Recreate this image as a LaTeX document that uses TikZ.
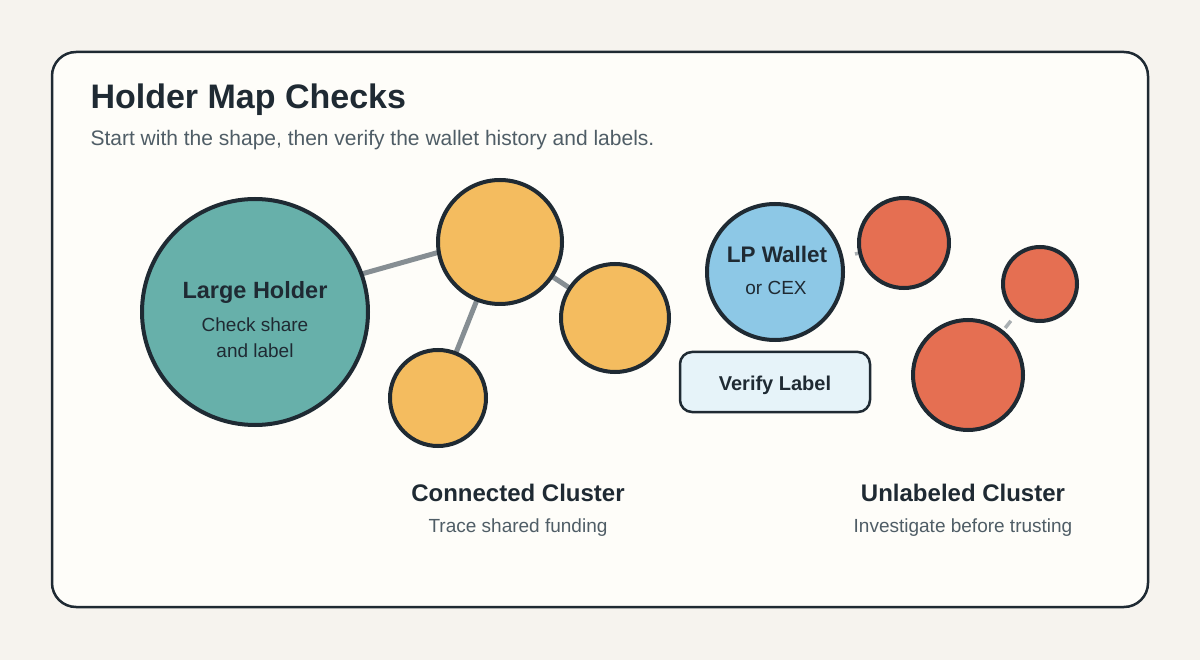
\documentclass[tikz,border=0pt]{standalone}
\usepackage{fontspec}
\setmainfont{Liberation Sans}
\definecolor{canvas}{HTML}{F6F3EE}
\definecolor{cardfill}{HTML}{FEFDF9}
\definecolor{ink}{HTML}{1F2A33}
\definecolor{subink}{HTML}{4F5D66}
\definecolor{linkgray}{HTML}{868E93}
\definecolor{softgray}{HTML}{A9AFB2}
\definecolor{teal}{HTML}{67B0AA}
\definecolor{amber}{HTML}{F4BC5F}
\definecolor{sky}{HTML}{8DC8E6}
\definecolor{coral}{HTML}{E56F52}
\definecolor{paleblue}{HTML}{E6F3F9}
\pgfdeclarelayer{back}
\pgfdeclarelayer{edges}
\pgfsetlayers{back,edges,main}
\begin{document}
\begin{tikzpicture}[x=1pt,y=-1pt]
    \tikzstyle{holder}=[circle,draw=ink,line width=4pt,inner sep=0pt]
    \tikzstyle{link}=[draw=linkgray,line width=5pt]
    \tikzstyle{faint}=[draw=softgray,line width=3.5pt]
    \tikzstyle{head}=[text=ink,font=\fontsize{23.5}{28}\selectfont\bfseries,anchor=base]
    \tikzstyle{note}=[text=ink,font=\fontsize{19}{23}\selectfont,anchor=base]
    \tikzstyle{caption}=[text=subink,font=\fontsize{19}{23}\selectfont,anchor=base]
    \tikzstyle{group}=[text=ink,font=\fontsize{24}{28}\selectfont\bfseries,anchor=base]

    \begin{pgfonlayer}{back}
    \fill[canvas] (0,0) rectangle (1200,660);
    \draw[fill=cardfill,draw=ink,line width=2.5pt,rounded corners=24pt] (52,52) rectangle (1148,607);
    \end{pgfonlayer}

    \node[text=ink,font=\fontsize{34}{40}\selectfont\bfseries,anchor=base west] at (87,109) (title) {Holder Map Checks};
    \node[text=subink,font=\fontsize{21}{25}\selectfont,anchor=base west] at (87,146) (subtitle) {Start with the shape, then verify the wallet history and labels.};

    % large holder and its cluster
    \node[holder,fill=teal,minimum size=226pt] at (255,312) (lh) {};
    \node[holder,fill=amber,minimum size=124pt] at (500,242) (c1) {};
    \node[holder,fill=amber,minimum size=108pt] at (615,318) (c2) {};
    \node[holder,fill=amber,minimum size=96pt] at (438,398) (c3) {};

    \node[head] at (255,299) (lhtitle) {Large Holder};
    \node[note] at (255,332) (lhnote1) {Check share};
    \node[note] at (255,358) (lhnote2) {and label};

    % lp wallet and unlabeled cluster
    \node[holder,fill=sky,minimum size=136pt] at (775,272) (lp) {};
    \node[holder,fill=coral,minimum size=90pt] at (904,243) (u1) {};
    \node[holder,fill=coral,minimum size=74pt] at (1040,284) (u2) {};
    \node[holder,fill=coral,minimum size=110pt] at (968,375) (u3) {};

    \node[text=ink,font=\fontsize{22.5}{27}\selectfont\bfseries,anchor=base] at (777,263) (lptitle) {LP Wallet};
    \node[note] at (776,295) (lpnote) {or CEX};

    \node[draw=ink,fill=paleblue,line width=2.5pt,rounded corners=12pt,minimum width=190pt,minimum height=60pt] at (775,382) (verify) {};
    \node[text=ink,font=\fontsize{20}{24}\selectfont\bfseries,anchor=base] at (775,390) (verifytext) {Verify Label};

    \node[group] at (518,501) (cctitle) {Connected Cluster};
    \node[caption] at (518,532) (ccnote) {Trace shared funding};
    \node[group] at (963,501) (uctitle) {Unlabeled Cluster};
    \node[caption] at (963,532) (ucnote) {Investigate before trusting};

    \begin{pgfonlayer}{edges}
    \draw[link] ([yshift=8pt]lh.center) -- ([yshift=7pt]c1.center);
    \draw[link] (c1.center) -- (c3.center);
    \draw[link] (c1.center) -- (c2.center);
    \draw[faint,shorten <=12pt] (lp) -- (u1);
    \draw[faint,shorten <=3pt,shorten >=8pt] (u3) -- (u2);
    \end{pgfonlayer}
\end{tikzpicture}
\end{document}
